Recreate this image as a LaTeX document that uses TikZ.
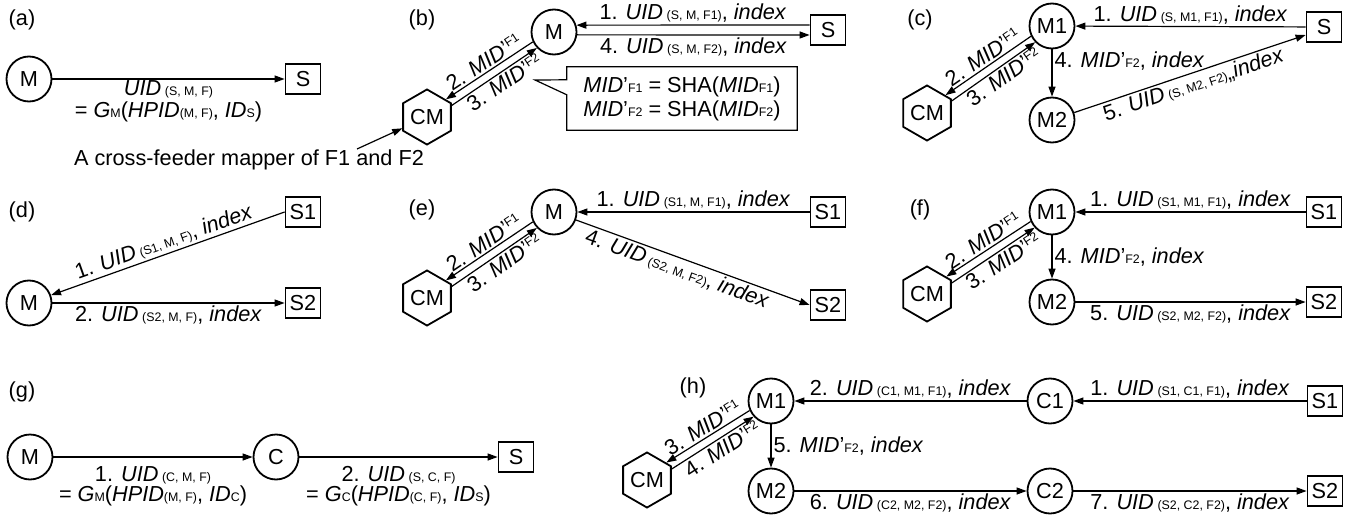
\documentclass[tikz,border=0pt]{standalone}
\usepackage{fontspec}
\setmainfont{Liberation Sans}
\usetikzlibrary{arrows.meta,shapes.geometric,calc}

% small lowered and raised index text
\newcommand\lo[1]{{\fontsize{12.4}{14}\selectfont #1}}
\newcommand\hi[1]{\raisebox{6.5pt}{\fontsize{12.4}{14}\selectfont #1}}
\newcommand\ui{\textit{UID}\,}
\newcommand\ix{\textit{index}}
\newcommand\mdp{\textit{MID}’}

% pair of opposite arrows between a mapper hexagon and a meter circle
% #1 hexagon, #2 circle, #3 #4 #5 #6 border angles, #7 upper label, #8 lower label
\newcommand\cmpair[8]{%
  \draw[rarr] (#1.#4) -- (#2.#3) node[midway,sloped,above,lab] {#7};
  \draw[arr] (#1.#5) -- (#2.#6) node[pos=0.55,sloped,below,lab] {#8};
}

\begin{document}
\begin{tikzpicture}[x=1pt,y=-1pt,font=\fontsize{21.7}{24}\selectfont,
  circ/.style={circle,draw,line width=1.8pt,minimum size=45pt,inner sep=0pt},
  sq/.style={rectangle,draw,line width=1.8pt,minimum width=35pt,minimum height=30pt,inner sep=0pt},
  hexa/.style={regular polygon,regular polygon sides=6,shape border rotate=30,draw,line width=1.8pt,minimum size=49pt,inner sep=0pt},
  arr/.style={-{Triangle[length=10pt,width=7pt]},line width=1.2pt},
  rarr/.style={{Triangle[length=10pt,width=7pt]}-,line width=1.2pt},
  lab/.style={inner sep=2pt},
  tag/.style={inner sep=0pt}]
\path[use as bounding box] (0,0) rectangle (1357,516);

% ---------- (a)
\node[tag] (ta) at (22,20) {(a)};
\node[circ] (Ma) at (29,79) {M};
\node[sq] (Sa) at (303,79) {S};
\draw[arr] (Ma) -- (Sa) node[midway,below,align=center,inner sep=1pt]
  {\ui\lo{(S, M, F)}\\[-2pt]= \textit{G}\lo{M}(\textit{HPID}\lo{(M, F)}, \textit{ID}\lo{S})};

% ---------- (b)
\node[tag] (tb) at (422,20) {(b)};
\node[circ] (Mb) at (554,32) {M};
\node[sq] (Sb) at (828,30) {S};
\node[hexa] (CMb) at (427,117) {CM};
\draw[arr] ([yshift=5pt]Sb.west) -- (Mb.17) node[midway,above,lab] {1. \ui\lo{(S, M, F1)}, \ix};
\draw[arr] (Mb.-7) -- ([yshift=-5pt]Sb.west) node[midway,below,lab] {4. \ui\lo{(S, M, F2)}, \ix};
\cmpair{CMb}{Mb}{205}{43}{25}{223}{2. \mdp\hi{F1}}{3. \mdp\hi{F2}}
\node[align=left,inner sep=0pt,minimum width=230pt,minimum height=63pt] (call) at (682,98.5)
  {\mdp\lo{F1} = SHA(\textit{MID}\lo{F1})\\ \mdp\lo{F2} = SHA(\textit{MID}\lo{F2})};
\coordinate (tip) at (535,80);
\draw[line width=1.2pt] (call.north west) -- (call.north east) -- (call.south east)
  -- (call.south west) -- ($(call.north west)+(0,28)$) -- (tip) -- ($(call.north west)+(0,13)$) -- cycle;
\node (ann) at (249,160) {A cross-feeder mapper of F1 and F2};
\coordinate (annft) at (357,149);
\draw[arr] (annft) -- (CMb);

% ---------- (c)
\node[tag] (tc) at (920,20) {(c)};
\node[circ] (M1c) at (1052,26) {M1};
\node[sq] (Sc) at (1324,27) {S};
\node[hexa] (CMc) at (927,113) {CM};
\node[circ] (M2c) at (1052,120) {M2};
\draw[arr] (Sc) -- (M1c) node[midway,above,lab] {1. \ui\lo{(S, M1, F1)}, \ix};
\draw[arr] (M1c) -- (M2c) node[pos=0.25,right,lab] {4. \mdp\lo{F2}, \ix};
\draw[arr] (M2c) -- ([yshift=-8pt]Sc.west) node[midway,below,sloped,lab] {5. \ui\lo{(S, M2, F2)},,\ix};
\cmpair{CMc}{M1c}{206}{44}{26}{224}{2. \mdp\hi{F1}}{3. \mdp\hi{F2}}

% ---------- (d)
\node[tag] (td) at (22,212) {(d)};
\node[sq] (S1d) at (303,212) {S1};
\node[circ] (Md) at (29,303) {M};
\node[sq] (S2d) at (303,303) {S2};
\draw[arr] (S1d.west) -- (Md) node[midway,above,sloped,lab] {1. \ui\lo{(S1, M, F)}, \ix};
\draw[arr] (Md) -- (S2d) node[midway,below,lab] {2. \ui\lo{(S2, M, F)}, \ix};

% ---------- (e)
\node[tag] (te) at (422,210) {(e)};
\node[circ] (Me) at (554,212) {M};
\node[sq] (S1e) at (828,212) {S1};
\node[hexa] (CMe) at (427,298) {CM};
\node[sq] (S2e) at (828,305) {S2};
\draw[arr] (S1e) -- (Me) node[midway,above,lab] {1. \ui\lo{(S1, M, F1)}, \ix};
\draw[arr] (Me) -- (S2e.west) node[pos=0.45,below,sloped,lab] {4. \ui\lo{(S2, M, F2)}, \ix};
\cmpair{CMe}{Me}{205}{43}{25}{223}{2. \mdp\hi{F1}}{3. \mdp\hi{F2}}

% ---------- (f)
\node[tag] (tf) at (920,210) {(f)};
\node[circ] (M1f) at (1052,212) {M1};
\node[sq] (S1f) at (1324,212) {S1};
\node[hexa] (CMf) at (927,294) {CM};
\node[circ] (M2f) at (1052,302) {M2};
\node[sq] (S2f) at (1324,302) {S2};
\draw[arr] (S1f) -- (M1f) node[midway,above,lab] {1. \ui\lo{(S1, M1, F1)}, \ix};
\draw[arr] (M1f) -- (M2f) node[midway,right,lab] {4. \mdp\lo{F2}, \ix};
\draw[arr] (M2f) -- (S2f) node[midway,below,lab] {5. \ui\lo{(S2, M2, F2)}, \ix};
\cmpair{CMf}{M1f}{204}{42}{24}{222}{2. \mdp\hi{F1}}{3. \mdp\hi{F2}}

% ---------- (g)
\node[tag] (tg) at (22,392) {(g)};
\node[circ] (Mg) at (30,457) {M};
\node[circ] (Cg) at (276,457) {C};
\node[sq] (Sg) at (516,457) {S};
\draw[arr] (Mg) -- (Cg) node[midway,below=8pt,align=center,inner sep=1pt]
  {1. \ui\lo{(C, M, F)}\\[-4pt]= \textit{G}\lo{M}(\textit{HPID}\lo{(M, F)}, \textit{ID}\lo{C})};
\draw[arr] (Cg) -- (Sg) node[midway,below=8pt,align=center,inner sep=1pt]
  {2. \ui\lo{(S, C, F)}\\[-4pt]= \textit{G}\lo{C}(\textit{HPID}\lo{(C, F)}, \textit{ID}\lo{S})};

% ---------- (h)
\node[tag] (th) at (693,388) {(h)};
\node[circ] (M1h) at (771,401) {M1};
\node[circ] (C1h) at (1050,401) {C1};
\node[sq] (S1h) at (1325,401) {S1};
\node[hexa] (CMh) at (647,480) {CM};
\node[circ] (M2h) at (771,491) {M2};
\node[circ] (C2h) at (1050,491) {C2};
\node[sq] (S2h) at (1325,491) {S2};
\draw[arr] (C1h) -- (M1h) node[midway,above,lab] {2. \ui\lo{(C1, M1, F1)}, \ix};
\draw[arr] (S1h) -- (C1h) node[midway,above,lab] {1. \ui\lo{(S1, C1, F1)}, \ix};
\draw[arr] (M1h) -- (M2h) node[midway,right,lab] {5. \mdp\lo{F2}, \ix};
\draw[arr] (M2h) -- (C2h) node[midway,below,lab] {6. \ui\lo{(C2, M2, F2)}, \ix};
\draw[arr] (C2h) -- (S2h) node[midway,below,lab] {7. \ui\lo{(S2, C2, F2)}, \ix};
\cmpair{CMh}{M1h}{204}{42}{24}{222}{3. \mdp\hi{F1}}{4. \mdp\hi{F2}}
\end{tikzpicture}
\end{document}
